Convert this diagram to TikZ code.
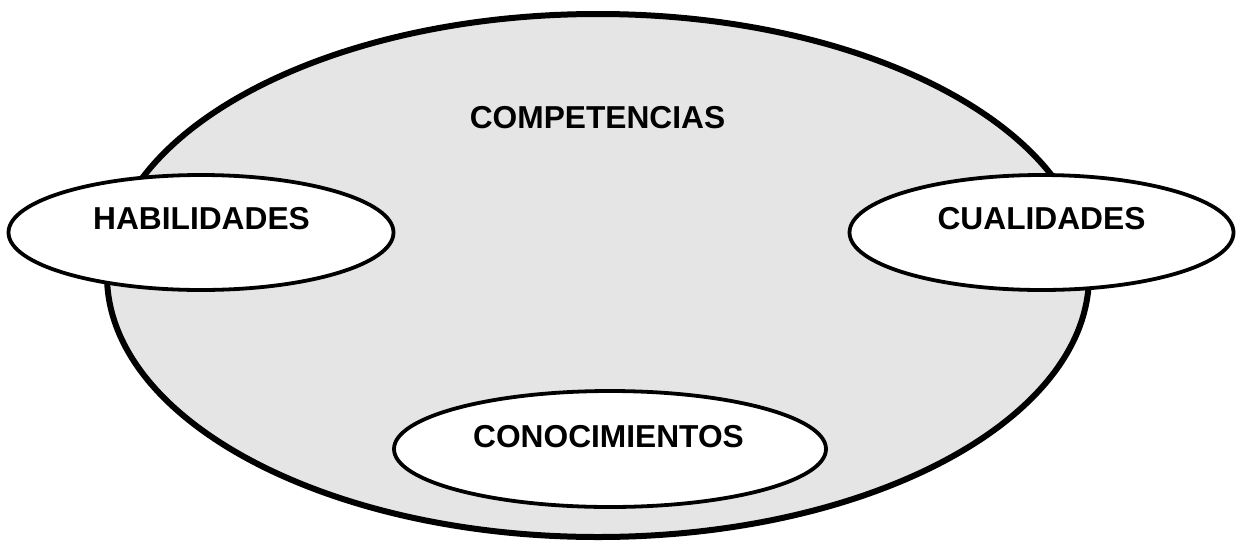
\documentclass[tikz,border=0pt]{standalone}
\usepackage{fontspec}
\setmainfont{Liberation Sans}
\usetikzlibrary{shapes.geometric}
\definecolor{bgfill}{RGB}{229,229,229}
\tikzset{
  bigell/.style={ellipse, draw=black, line width=6pt, fill=bgfill, inner sep=0pt,
    minimum width=982pt, minimum height=523pt},
  smallell/.style={ellipse, draw=black, line width=3.8pt, fill=white, inner sep=0pt},
  lbl/.style={inner sep=0pt, font=\fontsize{31.7pt}{36pt}\selectfont\bfseries}
}
\begin{document}
\begin{tikzpicture}[x=1pt,y=-1pt]
\useasboundingbox (0,0) rectangle (1238,541);
\node[bigell] (comp) at (598,275.5) {};
\node[lbl] (compt) at (597.5,118) {COMPETENCIAS};
\node[smallell, minimum width=385pt, minimum height=115pt] (hab) at (201,232.5) {};
\node[lbl] (habt) at (201.5,218.5) {HABILIDADES};
\node[smallell, minimum width=384pt, minimum height=115pt] (cua) at (1041.5,232.5) {};
\node[lbl] (cuat) at (1041.5,218.5) {CUALIDADES};
\node[smallell, minimum width=432pt, minimum height=116pt] (con) at (610,449) {};
\node[lbl] (cont) at (608.5,436.5) {CONOCIMIENTOS};
\end{tikzpicture}
\end{document}
